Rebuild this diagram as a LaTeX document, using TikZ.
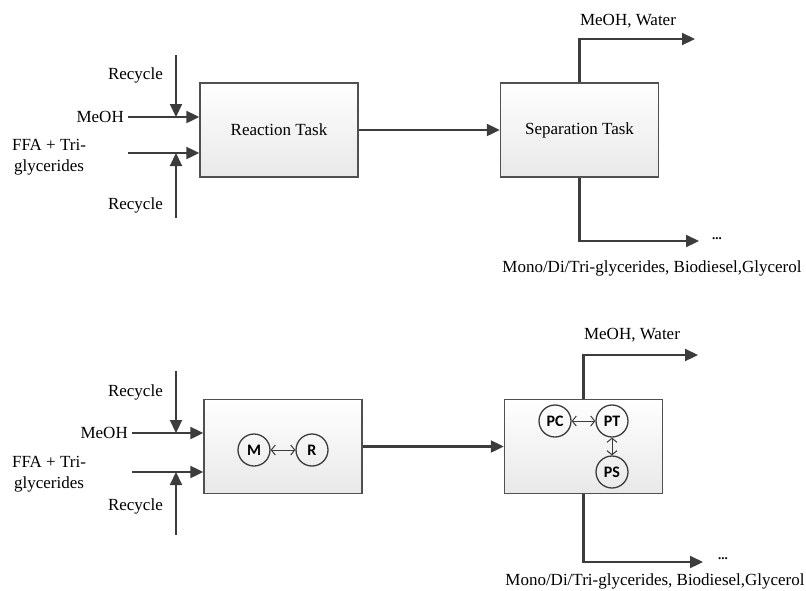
\documentclass[tikz,border=0pt]{standalone}
\usepackage{fontspec}
\setmainfont{Liberation Serif}
\newfontfamily\unitfont{Carlito}
\usetikzlibrary{arrows.meta,positioning}
\definecolor{linegray}{HTML}{3C3C3C}
\definecolor{boxgray}{HTML}{505050}
\begin{document}
\begin{tikzpicture}[x=1pt,y=-1pt,%
        every node/.style={font=\fontsize{17}{21}\selectfont},%
        task/.style={draw=boxgray,line width=1.4pt,top color=white,bottom
          color=black!9,minimum width=158pt,minimum height=94pt,inner sep=0pt},%
        flow/.style={draw=linegray,line width=2.2pt,
          -{Triangle[length=13pt,width=12pt]}},%
        unit/.style={circle,draw=linegray,line width=1.3pt,minimum
          size=32pt,inner sep=0pt,font=\unitfont\bfseries\fontsize{16}{16}\selectfont},%
        link/.style={draw=linegray,line width=1pt,{Straight
          Barb[length=4pt,width=10pt]}-{Straight Barb[length=4pt,width=10pt]}},%
        lbl/.style={inner sep=4pt},%
        dots/.style={font=\bfseries\fontsize{13}{13}\selectfont,inner sep=0pt}]
  \useasboundingbox (0,0) rectangle (806,590);
  % task level
  \node[task] (rt) at (279,130) {Reaction Task};
  \node[task] (st) at (579.5,130) {Separation Task};
  \node[lbl,anchor=east] (meoh1) at (128,117) {MeOH};
  \node[lbl,align=center] (ffa1) at (49,157.5) {FFA + Tri-\\glycerides};
  \node[lbl,anchor=east] (rca1) at (167,75) {Recycle};
  \node[lbl,anchor=east] (rcb1) at (167,205) {Recycle};
  \coordinate (f1) at (128,153); \coordinate (ra1) at (176,55);
  \coordinate (rb1) at (176,218);
  \draw[flow] (meoh1.east) -- (meoh1.east -| rt.west);
  \draw[flow] (f1) -- (f1 -| rt.west);
  \draw[flow] (ra1) -- (ra1 |- meoh1.east);
  \draw[flow] (rb1) -- (rb1 |- f1);
  \draw[flow] (rt) -- (st);
  \coordinate (w1) at (695,39); \coordinate (p1) at (699,241);
  \draw[flow] (st.north) |- (w1);
  \draw[flow] (st.south) |- (p1);
  \node (mw1) at (628,21) {MeOH, Water};
  \node[dots] (d1) at (717,239) {...};
  \node (pr1) at (652,268) {Mono/Di/Tri-glycerides, Biodiesel,Glycerol};
  % phenomena level
  \node[task] (rp) at (283,446.5) {};
  \node[task] (sp) at (583.5,446.5) {};
  \node[unit] (m) at (254,450) {M};
  \node[unit] (r) at (312,450) {R};
  \node[unit] (pc) at (555,421) {PC};
  \node[unit] (pt) at (612,421) {PT};
  \node[unit] (ps) at (612,472) {PS};
  \draw[link] (m) -- (r);
  \draw[link] (pc) -- (pt);
  \draw[link] (pt) -- (ps);
  \node[lbl,anchor=east] (meoh2) at (132,433) {MeOH};
  \node[lbl,align=center] (ffa2) at (49,474) {FFA + Tri-\\glycerides};
  \node[lbl,anchor=east] (rca2) at (167,392) {Recycle};
  \node[lbl,anchor=east] (rcb2) at (167,506) {Recycle};
  \coordinate (f2) at (132,472); \coordinate (ra2) at (176,371);
  \coordinate (rb2) at (176,535);
  \draw[flow] (meoh2.east) -- (meoh2.east -| rp.west);
  \draw[flow] (f2) -- (f2 -| rp.west);
  \draw[flow] (ra2) -- (ra2 |- meoh2.east);
  \draw[flow] (rb2) -- (rb2 |- f2);
  \draw[flow] (rp) -- (sp);
  \coordinate (w2) at (698,355); \coordinate (p2) at (703,562);
  \draw[flow] (sp.north) |- (w2);
  \draw[flow] (sp.south) |- (p2);
  \node (mw2) at (632,335) {MeOH, Water};
  \node[dots] (d2) at (723,559) {...};
  \node (pr2) at (655,581) {Mono/Di/Tri-glycerides, Biodiesel,Glycerol};
\end{tikzpicture}
\end{document}
